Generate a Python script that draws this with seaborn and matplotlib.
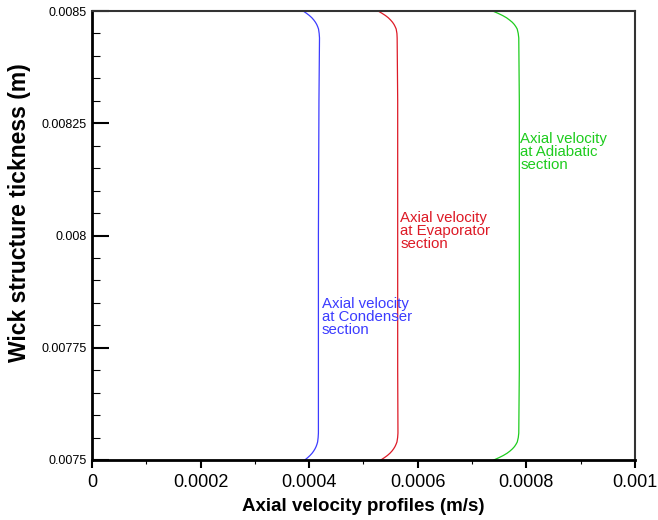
import matplotlib
matplotlib.use("Agg")
import matplotlib.pyplot as plt
import matplotlib.ticker as mticker
import pandas as pd
import seaborn as sns

sns.set_theme(style="ticks")
plt.rcParams["font.family"] = ["Liberation Sans", "DejaVu Sans"]
plt.rcParams["text.color"] = "black"
plt.rcParams["axes.labelcolor"] = "black"
plt.rcParams["xtick.labelcolor"] = "black"
plt.rcParams["ytick.labelcolor"] = "black"

# wick thickness positions (m), shared by all three profiles
thickness = [0.0075, 0.007505, 0.00751, 0.007515, 0.00752, 0.007525, 0.00753,
             0.007535, 0.00754, 0.00755, 0.00756,
             0.0077, 0.008, 0.0083,
             0.00844, 0.00845, 0.00846, 0.008465, 0.00847, 0.008475, 0.00848,
             0.008485, 0.00849, 0.008495, 0.0085]

# axial velocity (m/s)
vel_condenser = [0.000392, 0.000397, 0.0004015, 0.0004053, 0.0004083, 0.0004108,
                 0.0004128, 0.0004143, 0.0004155, 0.0004165, 0.000417,
                 0.000417, 0.000417, 0.000418,
                 0.000419, 0.0004184, 0.0004172, 0.0004157, 0.0004139, 0.0004115,
                 0.0004085, 0.0004049, 0.0004004, 0.000395, 0.000389]
vel_evaporator = [0.000532, 0.0005383, 0.000544, 0.0005487, 0.0005525, 0.0005556,
                  0.0005581, 0.00056, 0.0005616, 0.0005629, 0.0005635,
                  0.000563, 0.000563, 0.000563,
                  0.000562, 0.0005616, 0.0005602, 0.0005584, 0.0005563, 0.0005535,
                  0.0005499, 0.0005457, 0.0005404, 0.000534, 0.000527]
vel_adiabatic = [0.00074, 0.0007492, 0.0007575, 0.0007644, 0.0007699, 0.0007745,
                 0.0007782, 0.0007809, 0.0007832, 0.0007851, 0.000786,
                 0.000787, 0.000787, 0.000787,
                 0.000786, 0.000785, 0.0007831, 0.0007807, 0.0007778, 0.000774,
                 0.000769, 0.0007634, 0.0007562, 0.0007476, 0.000738]

sections = ["Condenser", "Evaporator", "Adiabatic"]
colors = ["#3c3cff", "#dd1a26", "#1ecc1e"]
label_pos = [(0.000423, 0.007862), (0.000568, 0.008054), (0.000789, 0.008230)]

x_ticks = [0, 0.0002, 0.0004, 0.0006, 0.0008, 0.001]
x_labels = ["0", "0.0002", "0.0004", "0.0006", "0.0008", "0.001"]
y_ticks = [0.0075, 0.00775, 0.008, 0.00825, 0.0085]
y_labels = ["0.0075", "0.00775", "0.008", "0.00825", "0.0085"]

frames = []
for name, vel in zip(sections, [vel_condenser, vel_evaporator, vel_adiabatic]):
    frames.append(pd.DataFrame({"velocity": vel, "thickness": thickness,
                                "section": name}))
df = pd.concat(frames, ignore_index=True)

fig = plt.figure(figsize=(6.58, 5.2), dpi=100)
ax = fig.add_axes([0.1398, 0.1154, 0.8252, 0.8634])
sns.lineplot(data=df, x="velocity", y="thickness", hue="section",
             palette=colors, sort=False, estimator=None, linewidth=0.9,
             legend=False, ax=ax)

for name, color, (tx, ty) in zip(sections, colors, label_pos):
    ax.text(tx, ty, f"Axial velocity\nat {name}\nsection", color=color,
            fontsize=10.8, va="top", ha="left", linespacing=0.9)

ax.set_xlim(0, 0.001)
ax.set_ylim(0.0075, 0.0085)
ax.xaxis.set_major_locator(mticker.FixedLocator(x_ticks))
ax.set_xticklabels(x_labels)
ax.yaxis.set_major_locator(mticker.FixedLocator(y_ticks))
ax.set_yticklabels(y_labels)
ax.xaxis.set_minor_locator(mticker.MultipleLocator(0.0001))
ax.yaxis.set_minor_locator(mticker.MultipleLocator(0.00005))
ax.tick_params(axis="x", which="major", direction="out", length=6, width=1.5,
               labelsize=13, color="black", pad=4)
ax.tick_params(axis="x", which="minor", direction="out", length=3, width=0.8,
               color="black")
ax.tick_params(axis="y", which="major", direction="in", length=12, width=1.5,
               labelsize=9, color="black", pad=4)
ax.tick_params(axis="y", which="minor", direction="in", length=6, width=0.8,
               color="black")

for side in ["left", "bottom"]:
    ax.spines[side].set_linewidth(2)
    ax.spines[side].set_color("black")
for side in ["top", "right"]:
    ax.spines[side].set_linewidth(1.5)
    ax.spines[side].set_color("#333333")

ax.set_xlabel("Axial velocity profiles (m/s)", fontsize=13.5, fontweight="bold",
              labelpad=5)
ax.set_ylabel("Wick structure tickness (m)", fontsize=16.5, fontweight="bold")
ax.yaxis.set_label_coords(-0.112, 0.552)

fig.savefig("out.png", dpi=100)
